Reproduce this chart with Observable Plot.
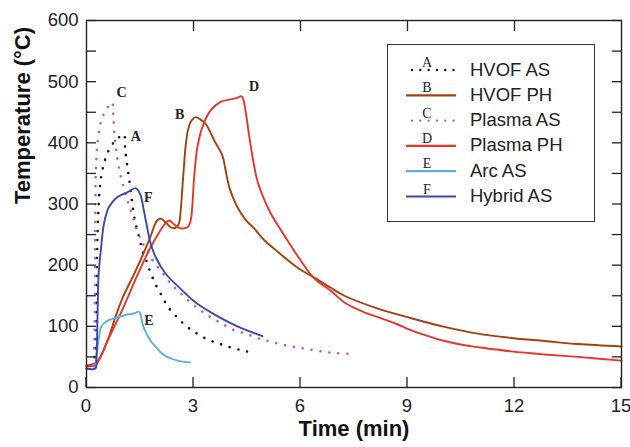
<!DOCTYPE html>
<html><head><meta charset="utf-8">
<script src="https://cdn.jsdelivr.net/npm/d3@7"></script>
<script src="https://cdn.jsdelivr.net/npm/@observablehq/plot@0.6"></script>
<style>
body{margin:0;background:#fff;}
#wrap{position:relative;width:630px;height:447px;font-family:"Liberation Sans",Arial,sans-serif;}
#legend{position:absolute;left:387px;top:44px;width:208px;height:178px;border:1.3px solid #333;box-sizing:border-box;background:#fff;}
</style></head><body><div id="wrap"></div>
<script>
// ---- data (time in min, temperature in °C) ----
const hvofAS = [[0.22,35],[0.26,80],[0.28,160],[0.30,230],[0.33,284],[0.36,317],[0.41,344],[0.49,366],[0.60,385],[0.77,401],[0.91,409],[1.05,414],[1.08,393],[1.12,372],[1.19,343],[1.28,302],[1.33,282],[1.40,262],[1.49,243],[1.56,225],[1.68,207],[1.80,187],[1.94,168],[2.11,150],[2.28,132],[2.52,116],[2.80,100],[3.10,88],[3.42,78],[3.75,71],[4.07,65],[4.42,60],[4.72,56]];
const hvofPH = [[0,35],[0.25,36],[0.30,40],[0.60,78],[0.81,115],[1.0,145],[1.38,191],[1.75,240],[1.98,273],[2.08,276],[2.22,270],[2.36,262],[2.50,261],[2.59,268],[2.64,289],[2.69,328],[2.73,360],[2.78,395],[2.85,422],[2.95,437],[3.06,442],[3.20,438],[3.34,431],[3.45,420],[3.58,404],[3.81,379],[3.90,355],[4.0,328],[4.14,306],[4.23,295],[4.45,275],[4.70,260],[5.0,240],[5.30,225],[5.96,194],[6.29,183],[6.85,163],[7.23,150],[8.17,129],[9.0,115],[10.04,99],[10.97,88],[11.91,81],[12.85,76],[13.78,71],[15,67]];
const plasmaAS = [[0.20,35],[0.23,100],[0.24,200],[0.25,300],[0.26,349],[0.30,393],[0.37,426],[0.47,445],[0.60,459],[0.72,466],[0.75,447],[0.79,410],[0.86,377],[0.96,345],[1.10,316],[1.19,298],[1.30,279],[1.42,257],[1.56,238],[1.71,223],[1.89,205],[2.13,187],[2.36,170],[2.64,154],[2.92,139],[3.20,126],[3.48,115],[3.81,104],[4.12,94],[4.47,88],[4.78,81],[5.09,76],[5.43,71],[5.75,67],[6.07,64],[6.39,61],[6.71,58],[7.04,56],[7.37,55]];
const plasmaPH = [[0,36],[0.30,42],[0.60,78],[0.91,115],[1.05,133],[1.40,180],[1.75,224],[2.0,250],[2.13,262],[2.31,273],[2.45,267],[2.59,261],[2.83,262],[2.92,273],[2.97,300],[3.01,338],[3.06,370],[3.11,393],[3.25,426],[3.48,453],[3.76,467],[4.04,471],[4.20,473],[4.35,476],[4.40,470],[4.47,448],[4.61,393],[4.79,338],[5.0,305],[5.17,284],[5.64,240],[6.0,208],[6.39,178],[6.85,158],[7.23,139],[7.79,123],[8.17,115],[8.73,103],[9.0,96],[9.47,86],[10.04,76],[10.6,69],[10.97,66],[11.91,59],[12.85,54],[13.78,50],[15,44]];
const arcAS = [[0,31],[0.22,31],[0.27,45],[0.32,70],[0.37,90],[0.41,99],[0.55,108],[0.83,114],[1.12,119],[1.33,121],[1.47,124],[1.52,118],[1.58,102],[1.70,86],[1.80,76],[1.95,66],[2.17,53],[2.55,44],[2.90,41]];
const hybridAS = [[0,31],[0.25,31],[0.28,50],[0.31,120],[0.34,185],[0.41,229],[0.49,268],[0.63,295],[0.86,311],[1.14,319],[1.38,326],[1.45,322],[1.52,314],[1.61,289],[1.70,262],[1.80,235],[1.94,213],[2.22,186],[2.59,164],[3.06,139],[3.72,115],[4.23,100],[4.93,84]];

const seriesNames   = ["HVOF AS","HVOF PH","Plasma AS","Plasma PH","Arc AS","Hybrid AS"];
const seriesLetters = ["A","B","C","D","E","F"];
const seriesData    = [hvofAS, hvofPH, plasmaAS, plasmaPH, arcAS, hybridAS];
const seriesColors  = ["#111111","#a3410f","#c64fc6","#e8352b","#5aaee0","#3b4aa8"];
const seriesDotted  = [true,false,true,false,false,false];

// curve letter label positions (min, °C)
const letterTime = [1.38, 2.61, 0.98, 4.70, 1.75, 1.73];
const letterTemp = [411, 446, 482, 492, 110, 311];

const xTicks = [0,3,6,9,12,15];
const yTicks = d3.range(0,601,50);
const xTitle = "Time (min)";
const yTitle = "Temperature (°C)";

// ---- build ----
const lineMarks = seriesData.map((pts,i) => {
  const rows = pts.map(([t,T]) => ({t,T}));
  return Plot.line(rows, seriesDotted[i]
    ? {x:"t", y:"T", stroke: seriesColors[i], strokeWidth: 2.6, strokeDasharray: "0 9", strokeLinecap: "round", curve: "catmull-rom"}
    : {x:"t", y:"T", stroke: seriesColors[i], strokeWidth: 1.9, curve: "catmull-rom"});
});
const letters = seriesLetters.map((l,i) => ({l, t: letterTime[i], T: letterTemp[i]}));

const chart = Plot.plot({
  width: 630, height: 447,
  marginLeft: 86, marginRight: 9, marginTop: 20, marginBottom: 60,
  x: {domain: [0,15]},
  y: {domain: [0,600]},
  style: {fontFamily: "'Liberation Sans', Arial, sans-serif", fontSize: "18.5px", color: "#222", background: "#fff"},
  marks: [
    ...lineMarks,
    Plot.text(letters, {x:"t", y:"T", text:"l", fontFamily:"'Liberation Serif', 'Times New Roman', serif", fontWeight:"bold", fontSize:14, fill:"#222"}),
    Plot.axisY({anchor:"left", ticks: yTicks, tickSize: -10, tickPadding: 18, strokeWidth: 1.3, tickFormat: d => d % 100 === 0 ? String(d) : "", label: null, fontSize: 18.5}),
    Plot.axisY({anchor:"right", ticks: yTicks, tickSize: -10, strokeWidth: 1.3, tickFormat: () => "", label: null}),
    Plot.axisX({anchor:"bottom", ticks: xTicks, tickSize: -10, tickPadding: 21, strokeWidth: 1.3, label: null, fontSize: 18.5, dx: -0.5}),
    Plot.axisX({anchor:"top", ticks: xTicks.slice(1,-1), tickSize: -10, strokeWidth: 1.3, tickFormat: () => "", label: null}),
    Plot.frame({stroke:"#222", strokeWidth: 1.4}),
    Plot.text([xTitle], {frameAnchor:"bottom", dy: 48, text: d => d, fontWeight:"bold", fontSize: 22, fill:"#111"}),
    Plot.text([yTitle], {frameAnchor:"left", dx: -64, rotate: -90, text: d => d, fontWeight:"bold", fontSize: 22, fill:"#111"})
  ]
});
const wrap = document.getElementById("wrap");
wrap.appendChild(chart);

// ---- legend (inside plot area, top right) ----
const lg = d3.select(wrap).append("div").attr("id","legend");
const ls = lg.append("svg").attr("width",206).attr("height",176).style("display","block");
seriesNames.forEach((name,i) => {
  const y = 25 + i*25.3;
  const line = ls.append("line").attr("x1", seriesDotted[i] ? 24 : 18).attr("x2", 68).attr("y1", y).attr("y2", y)
    .attr("stroke", seriesColors[i]);
  if (seriesDotted[i]) line.attr("stroke-width", 2.4).attr("stroke-dasharray","0 8.3").attr("stroke-linecap","round");
  else line.attr("stroke-width", 2.2);
  ls.append("text").attr("x", 39).attr("y", y - 3).attr("text-anchor","middle")
    .attr("font-family","'Liberation Serif', 'Times New Roman', serif").attr("font-size", 14).attr("fill","#222")
    .text(seriesLetters[i]);
  ls.append("text").attr("x", 82).attr("y", y + 5.5)
    .attr("font-family","'Liberation Sans', Arial, sans-serif").attr("font-size", 18.5).attr("fill","#222")
    .text(name);
});
</script></body></html>
